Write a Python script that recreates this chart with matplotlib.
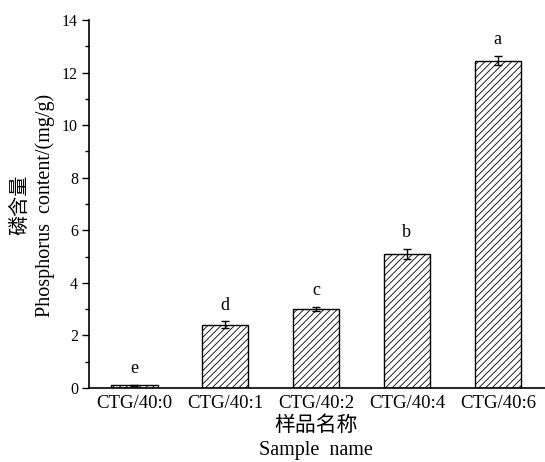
import matplotlib
matplotlib.use("Agg")
import matplotlib.pyplot as plt
import numpy as np

categories = ["CTG/40:0", "CTG/40:1", "CTG/40:2", "CTG/40:4", "CTG/40:6"]
values = [0.1, 2.4, 3.0, 5.1, 12.45]
errors = [0.03, 0.13, 0.08, 0.2, 0.17]
letters = ["e", "d", "c", "b", "a"]

plt.rcParams['font.family'] = ['Liberation Serif', 'Noto Sans CJK SC']
plt.rcParams['hatch.linewidth'] = 0.6

fig = plt.figure(figsize=(5.45, 4.62), dpi=100)
ax = fig.add_axes([89/545, (462-388)/462, (545-89)/545, (388-20)/462])

x = np.arange(len(categories))
ax.bar(x, values, width=0.51, color='white', edgecolor='black', hatch='/////', linewidth=1.0)
ax.errorbar(x, values, yerr=errors, fmt='none', ecolor='black', elinewidth=1.0, capsize=3, capthick=1.0)
for xi, v, e, l in zip(x, values, errors, letters):
    ax.text(xi, v + e + 0.3, l, ha='center', va='bottom', fontsize=13)

ax.set_xlim(-0.5, 4.52)
ax.set_ylim(0, 14)
ax.set_yticks(np.arange(0, 15, 2))
ax.set_yticks(np.arange(1, 14, 2), minor=True)
ax.set_xticks(x)
ax.set_xticklabels(categories, fontsize=13.5)
ax.tick_params(axis='y', which='major', direction='out', length=5, width=1, labelsize=11.5, pad=3)
ax.tick_params(axis='y', which='minor', direction='out', length=3, width=1)
ax.tick_params(axis='x', length=0, pad=5)
ax.spines['top'].set_visible(False)
ax.spines['right'].set_visible(False)
ax.spines['left'].set_linewidth(1.2)
ax.spines['bottom'].set_linewidth(1.2)

fig.text(20/545, 1 - 205/462, "磷含量", rotation=90, ha='center', va='center', fontsize=14.5, family=['Noto Sans CJK SC'])
fig.text(45/545, 1 - 205/462, "Phosphorus  content/(mg/g)", rotation=90, ha='center', va='center', fontsize=14.5)
fig.text(316/545, 1 - 425/462, "样品名称", ha='center', va='center', fontsize=15, family=['Noto Sans CJK SC'])
fig.text(316/545, 1 - 451/462, "Sample  name", ha='center', va='center', fontsize=14.5)

fig.savefig("out.png", dpi=100)
